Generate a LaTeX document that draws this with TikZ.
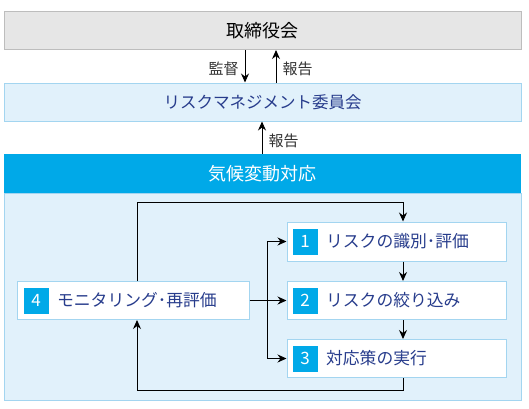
\documentclass[tikz,border=0pt]{standalone}
\usepackage{fontspec}
\setmainfont{Noto Sans CJK JP}
\usetikzlibrary{positioning,arrows.meta}
\definecolor{accent}{HTML}{00A9E8}
\definecolor{paleblue}{HTML}{E1F1FB}
\definecolor{boxline}{HTML}{A3D5F0}
\definecolor{navy}{HTML}{273C8C}
\definecolor{greyfill}{HTML}{E6E6E6}
\definecolor{greyline}{HTML}{BDBDBD}
\definecolor{labelgrey}{HTML}{333333}
\tikzset{
  wide/.style={minimum width=517pt, minimum height=38pt, inner sep=0pt, line width=1pt},
  stepbox/.style={draw=boxline, fill=white, line width=1pt, minimum width=219pt, minimum height=38pt, inner sep=0pt},
  numbox/.style={fill=accent, text=white, minimum width=25pt, minimum height=26pt, inner sep=0pt, font=\fontsize{17}{20}\selectfont},
  steptext/.style={text=navy, inner sep=0pt, font=\fontsize{16.8}{19}\selectfont},
  arr/.style={-{Stealth[length=9pt,width=8pt]}, line width=1pt},
  lbl/.style={text=labelgrey, inner sep=0pt, font=\fontsize{15}{18}\selectfont}
}
\begin{document}
\begin{tikzpicture}[x=1pt,y=-1pt]
  \useasboundingbox (0,0) rectangle (529,408);
  % committee levels
  \node[wide, draw=greyline, fill=greyfill, font=\fontsize{18}{21}\selectfont] (board) at (262.5,30.5) {取締役会};
  \node[wide, draw=boxline, fill=paleblue, text=navy, font=\fontsize{16.5}{19}\selectfont] (rmc) at (262.5,102) {リスクマネジメント委員会};
  \node[wide, minimum height=207pt, draw=boxline, fill=paleblue] (panel) at (262.5,296.5) {};
  \node[wide, minimum height=39pt, fill=accent, text=white, font=\fontsize{18}{21}\selectfont] (head) at (262.5,173.5) {気候変動対応};
  % process steps
  \node[stepbox, minimum height=39pt] (s1) at (396.5,241.5) {};
  \node[stepbox] (s2) at (396.5,300.5) {};
  \node[stepbox] (s3) at (396.5,358.5) {};
  \node[stepbox, minimum width=232pt] (s4) at (133,300.5) {};
  \node[numbox, right=6pt of s1.west] (n1) {1};
  \node[numbox, right=6pt of s2.west] (n2) {2};
  \node[numbox, right=6pt of s3.west] (n3) {3};
  \node[numbox, right=7pt of s4.west] (n4) {4};
  \node[steptext, right=8pt of n1] (t1) {リスクの識別･評価};
  \node[steptext, right=8pt of n2] (t2) {リスクの絞り込み};
  \node[steptext, right=8pt of n3] (t3) {対応策の実行};
  \node[steptext, right=8pt of n4] (t4) {モニタリング･再評価};
  % reporting lines
  \coordinate (down) at (245,0);
  \coordinate (up) at (276,0);
  \coordinate (mid) at (262,0);
  \draw[arr] (board.south -| down) -- node[lbl, left=6pt, yshift=-3pt] (l1) {監督} (rmc.north -| down);
  \draw[arr] (rmc.north -| up) -- node[lbl, right=6pt, yshift=-3pt] (l2) {報告} (board.south -| up);
  \draw[arr] (head.north -| mid) -- node[lbl, right=6pt, yshift=-3pt] (l3) {報告} (rmc.south -| mid);
  % cycle
  \coordinate (lx) at (137,0);
  \coordinate (rx) at (403,0);
  \coordinate (fork) at (267,0);
  \coordinate (looptop) at (0,202);
  \coordinate (loopbot) at (0,390);
  \draw[arr] (s4.north -| lx) -- (lx |- looptop) -- (rx |- looptop) -- (s1.north -| rx);
  \draw[arr] (s1.south -| rx) -- (s2.north -| rx);
  \draw[arr] (s2.south -| rx) -- (s3.north -| rx);
  \draw[arr] (s3.south -| rx) -- (rx |- loopbot) -- (lx |- loopbot) -- (s4.south -| lx);
  \draw[arr] (s4.east) -- (s2.west);
  \draw[arr] (fork |- s1.west) -- (s1.west);
  \draw[arr] (fork |- s1.west) -- (fork |- s3.west) -- (s3.west);
\end{tikzpicture}
\end{document}
